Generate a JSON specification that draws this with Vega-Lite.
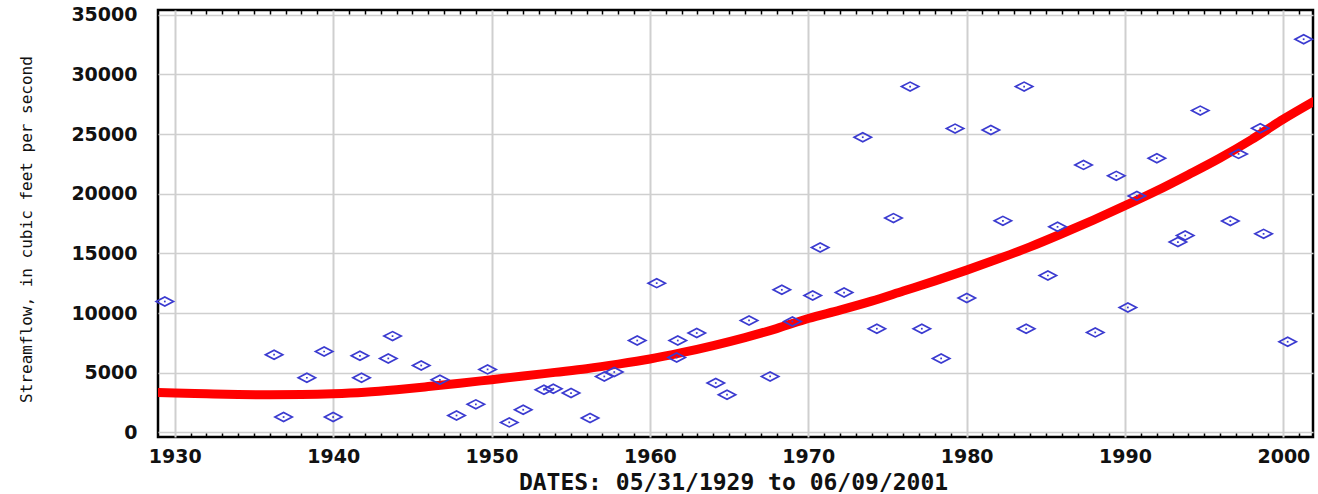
{
  "$schema": "https://vega.github.io/schema/vega-lite/v6.json",
  "autosize": "none",
  "width": 1155,
  "height": 427,
  "padding": {"left": 158, "top": 10, "right": 5, "bottom": 57},
  "background": "#ffffff",
  "config": {
    "view": {"stroke": "#000000", "strokeWidth": 2.5},
    "axis": {"labelFont": "DejaVu Sans", "labelFontWeight": "bold", "labelFontSize": 19, "labelColor": "#111111"}
  },
  "datasets": {
    "flows": [
      {"year": 1929.37, "flow": 10970}, {"year": 1936.27, "flow": 6510}, {"year": 1936.87, "flow": 1290},
      {"year": 1938.34, "flow": 4580}, {"year": 1939.43, "flow": 6780}, {"year": 1940.0, "flow": 1290},
      {"year": 1941.69, "flow": 6420}, {"year": 1941.79, "flow": 4580}, {"year": 1943.48, "flow": 6200},
      {"year": 1943.75, "flow": 8070}, {"year": 1945.56, "flow": 5610}, {"year": 1946.74, "flow": 4410},
      {"year": 1947.79, "flow": 1420}, {"year": 1949.01, "flow": 2350}, {"year": 1949.75, "flow": 5280},
      {"year": 1951.12, "flow": 840}, {"year": 1952.0, "flow": 1900}, {"year": 1953.31, "flow": 3580},
      {"year": 1953.9, "flow": 3660}, {"year": 1955.02, "flow": 3300}, {"year": 1956.22, "flow": 1210},
      {"year": 1957.12, "flow": 4690}, {"year": 1957.75, "flow": 5060}, {"year": 1959.2, "flow": 7700},
      {"year": 1960.43, "flow": 12510}, {"year": 1961.69, "flow": 6280}, {"year": 1961.76, "flow": 7700},
      {"year": 1962.96, "flow": 8330}, {"year": 1964.16, "flow": 4140}, {"year": 1964.87, "flow": 3160},
      {"year": 1966.26, "flow": 9380}, {"year": 1967.59, "flow": 4690}, {"year": 1968.33, "flow": 11950},
      {"year": 1969.0, "flow": 9300}, {"year": 1970.28, "flow": 11470}, {"year": 1970.75, "flow": 15490},
      {"year": 1972.26, "flow": 11720}, {"year": 1973.44, "flow": 24740}, {"year": 1974.33, "flow": 8690},
      {"year": 1975.38, "flow": 17960}, {"year": 1976.43, "flow": 28980}, {"year": 1977.17, "flow": 8690},
      {"year": 1978.39, "flow": 6200}, {"year": 1979.27, "flow": 25460}, {"year": 1980.01, "flow": 11260},
      {"year": 1981.53, "flow": 25350}, {"year": 1982.29, "flow": 17730}, {"year": 1983.63, "flow": 28980},
      {"year": 1983.76, "flow": 8690}, {"year": 1985.13, "flow": 13150}, {"year": 1985.74, "flow": 17230},
      {"year": 1987.38, "flow": 22420}, {"year": 1988.12, "flow": 8380}, {"year": 1989.45, "flow": 21500},
      {"year": 1990.18, "flow": 10470}, {"year": 1990.75, "flow": 19820}, {"year": 1992.01, "flow": 22980},
      {"year": 1993.34, "flow": 15950}, {"year": 1993.8, "flow": 16500}, {"year": 1994.75, "flow": 26970},
      {"year": 1996.65, "flow": 17710}, {"year": 1997.17, "flow": 23340}, {"year": 1998.54, "flow": 25490},
      {"year": 1998.75, "flow": 16640}, {"year": 2000.27, "flow": 7600}, {"year": 2001.28, "flow": 32950}
    ],
    "fit": [
      {"year": 1928.94, "flow": 3350}, {"year": 1930, "flow": 3300}, {"year": 1932, "flow": 3230},
      {"year": 1934, "flow": 3170}, {"year": 1936, "flow": 3150}, {"year": 1938, "flow": 3170},
      {"year": 1940, "flow": 3240}, {"year": 1942, "flow": 3370}, {"year": 1944, "flow": 3580},
      {"year": 1946, "flow": 3840}, {"year": 1948, "flow": 4120}, {"year": 1950, "flow": 4420},
      {"year": 1952, "flow": 4720}, {"year": 1954, "flow": 5030}, {"year": 1956, "flow": 5340},
      {"year": 1958, "flow": 5720}, {"year": 1960, "flow": 6150}, {"year": 1962, "flow": 6680},
      {"year": 1964, "flow": 7280}, {"year": 1966, "flow": 7950}, {"year": 1968, "flow": 8700},
      {"year": 1970, "flow": 9550}, {"year": 1972, "flow": 10250}, {"year": 1974, "flow": 11000},
      {"year": 1976, "flow": 11850}, {"year": 1978, "flow": 12700}, {"year": 1980, "flow": 13600},
      {"year": 1982, "flow": 14550}, {"year": 1984, "flow": 15550}, {"year": 1986, "flow": 16650},
      {"year": 1988, "flow": 17800}, {"year": 1990, "flow": 19000}, {"year": 1992, "flow": 20250},
      {"year": 1994, "flow": 21600}, {"year": 1996, "flow": 23000}, {"year": 1998, "flow": 24550},
      {"year": 2000, "flow": 26250}, {"year": 2001.87, "flow": 27700}
    ]
  },
  "layer": [
    {
      "data": {"name": "fit"},
      "mark": {"type": "line", "color": "#ff0000", "strokeWidth": 9, "strokeCap": "round", "interpolate": "monotone", "clip": true},
      "encoding": {
        "x": {
          "field": "year", "type": "quantitative",
          "scale": {"domain": [1928.94, 2001.87], "nice": false, "zero": false},
          "title": "DATES: 05/31/1929 to 06/09/2001",
          "axis": {
            "orient": "bottom",
            "values": [1930,1931,1932,1933,1934,1935,1936,1937,1938,1939,1940,1941,1942,1943,1944,1945,1946,1947,1948,1949,1950,1951,1952,1953,1954,1955,1956,1957,1958,1959,1960,1961,1962,1963,1964,1965,1966,1967,1968,1969,1970,1971,1972,1973,1974,1975,1976,1977,1978,1979,1980,1981,1982,1983,1984,1985,1986,1987,1988,1989,1990,1991,1992,1993,1994,1995,1996,1997,1998,1999,2000,2001],
            "grid": true,
            "gridColor": "#cfcfcf",
            "gridWidth": 2,
            "gridOpacity": {"condition": {"test": "datum.value % 10 === 0", "value": 1}, "value": 0},
            "domain": false,
            "ticks": true,
            "tickSize": -4,
            "tickColor": "#000000",
            "tickWidth": 1.5,
            "tickOpacity": {"condition": {"test": "datum.value % 10 === 0", "value": 0}, "value": 1},
            "labelExpr": "datum.value % 10 === 0 ? '' + datum.value : ''",
            "labelOverlap": false,
            "labelFlush": false,
            "labelPadding": 14,
            "labelBaseline": "top",
            "titleFont": "DejaVu Sans Mono",
            "titleFontWeight": "bold",
            "titleFontSize": 23,
            "titleColor": "#111111",
            "titleX": 575,
            "titleY": 52,
            "titleBaseline": "alphabetic"
          }
        },
        "y": {
          "field": "flow", "type": "quantitative",
          "scale": {"domain": [-385, 35400], "nice": false, "zero": false},
          "title": "Streamflow, in cubic feet per second",
          "axis": {
            "values": [0, 5000, 10000, 15000, 20000, 25000, 30000, 35000],
            "format": "d",
            "grid": true,
            "gridColor": "#cfcfcf",
            "gridWidth": 1.5,
            "domain": false,
            "ticks": false,
            "labelPadding": 21,
            "labelBaseline": "middle",
            "titleFont": "DejaVu Sans Mono",
            "titleFontWeight": "normal",
            "titleFontSize": 16,
            "titleColor": "#111111",
            "titleAngle": -90,
            "titleX": -132,
            "titleY": 219,
            "titleAlign": "center",
            "titleBaseline": "middle"
          }
        }
      }
    },
    {
      "data": {"name": "flows"},
      "mark": {"type": "point", "shape": "M-1,0L0,-0.52L1,0L0,0.52Z", "size": 300, "filled": false, "stroke": "#3b3bd0", "strokeWidth": 1.7, "opacity": 1},
      "encoding": {
        "x": {
          "field": "year", "type": "quantitative", "title": null,
          "axis": {
            "orient": "top",
            "values": [1930,1931,1932,1933,1934,1935,1936,1937,1938,1939,1940,1941,1942,1943,1944,1945,1946,1947,1948,1949,1950,1951,1952,1953,1954,1955,1956,1957,1958,1959,1960,1961,1962,1963,1964,1965,1966,1967,1968,1969,1970,1971,1972,1973,1974,1975,1976,1977,1978,1979,1980,1981,1982,1983,1984,1985,1986,1987,1988,1989,1990,1991,1992,1993,1994,1995,1996,1997,1998,1999,2000,2001],
            "labels": false,
            "grid": false,
            "domain": false,
            "tickSize": -4,
            "tickColor": "#000000",
            "tickWidth": 1.5,
            "tickOpacity": {"condition": {"test": "datum.value % 10 === 0", "value": 0}, "value": 1}
          }
        },
        "y": {"field": "flow", "type": "quantitative", "title": "Streamflow, in cubic feet per second"}
      }
    },
    {
      "data": {"name": "flows"},
      "mark": {"type": "point", "shape": "square", "size": 3, "filled": true, "color": "#3b3bd0", "opacity": 1},
      "encoding": {
        "x": {"field": "year", "type": "quantitative", "axis": null},
        "y": {"field": "flow", "type": "quantitative", "title": "Streamflow, in cubic feet per second"}
      }
    }
  ],
  "resolve": {"axis": {"x": "independent"}}
}
